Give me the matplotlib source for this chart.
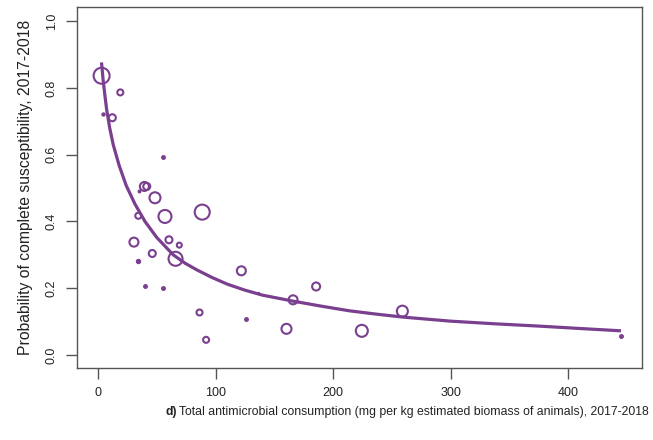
import matplotlib
matplotlib.use("Agg")
import matplotlib.pyplot as plt

plt.rcParams["font.family"] = ["Liberation Sans", "DejaVu Sans"]

PURPLE = "#7a3f8e"

# observed points: consumption, probability, marker diameter (px)
cons = [3.1, 19, 4.5, 12.2, 55, 39.5, 41.5, 34.6, 48.5, 57, 88.7, 34.3, 30.6, 60.4,
        69.2, 46.2, 66, 33.7, 40, 55.6, 122, 86.4, 92, 125.9, 166, 160.4, 185.6,
        224.5, 259, 444.7, 136]
prob = [0.837, 0.787, 0.722, 0.711, 0.594, 0.505, 0.505, 0.49, 0.471, 0.415, 0.428,
        0.417, 0.338, 0.345, 0.329, 0.304, 0.288, 0.282, 0.207, 0.201, 0.252, 0.127,
        0.045, 0.106, 0.165, 0.078, 0.205, 0.072, 0.131, 0.056, 0.184]
diam = [16, 6, 3, 7, 3.5, 9, 7, 2.5, 11, 13, 15, 6, 9, 7, 5, 7, 14, 4, 3.5, 3.5,
        9, 6, 6, 3.5, 9, 10, 8, 12, 11, 3.5, 2]

# fitted curve
fit_x = [3, 4.5, 6, 7.4, 10, 13, 18, 24, 31.5, 40, 50, 64, 74, 84, 97, 110, 125,
         140, 153, 166, 190, 214, 237, 260, 280, 300, 338, 376, 410, 445]
fit_y = [0.877, 0.82, 0.775, 0.735, 0.68, 0.63, 0.568, 0.508, 0.452, 0.4, 0.352,
         0.3, 0.275, 0.255, 0.232, 0.212, 0.194, 0.179, 0.170, 0.161, 0.146,
         0.132, 0.122, 0.113, 0.107, 0.101, 0.093, 0.086, 0.079, 0.072]

xticks = [0, 100, 200, 300, 400]
yticks = [0.0, 0.2, 0.4, 0.6, 0.8, 1.0]

fig = plt.figure(figsize=(6.53, 4.4), dpi=100)
ax = fig.add_axes([0.118, 0.164, 0.865, 0.82])

for x, y, d in zip(cons, prob, diam):
    sz = (d * 0.72) ** 2
    if d <= 4:
        ax.scatter(x, y, s=sz, color=PURPLE, zorder=3)
    else:
        ax.scatter(x, y, s=sz, facecolors="none", edgecolors=PURPLE,
                   linewidths=1.5, zorder=3)

ax.plot(fit_x, fit_y, color=PURPLE, linewidth=2.3, solid_capstyle="butt",
        solid_joinstyle="round", zorder=2)

ax.set_xlim(-17.8, 462.8)
ax.set_ylim(-0.039, 1.043)
ax.set_xticks(xticks)
ax.set_xticklabels([str(t) for t in xticks])
ax.set_yticks(yticks)
ax.set_yticklabels([f"{t:.1f}" for t in yticks], rotation=90, va="center",
                   fontsize=10)

for s in ax.spines.values():
    s.set_color("#555555")
    s.set_linewidth(1.0)
ax.tick_params(direction="out", length=8, width=1.0, color="#555555",
               labelsize=9, labelcolor="#222222", pad=6)

ax.set_ylabel("Probability of complete susceptibility, 2017-2018",
              fontsize=11.3, color="#222222", labelpad=9)

fig.text(0.253, 0.063, "d)", fontsize=8.8, fontweight="bold", color="#222222",
         ha="left", va="center")
fig.text(0.274, 0.063,
         "Total antimicrobial consumption (mg per kg estimated biomass of animals), 2017-2018",
         fontsize=8.8, color="#222222", ha="left", va="center")

fig.savefig("out.png", dpi=100)
